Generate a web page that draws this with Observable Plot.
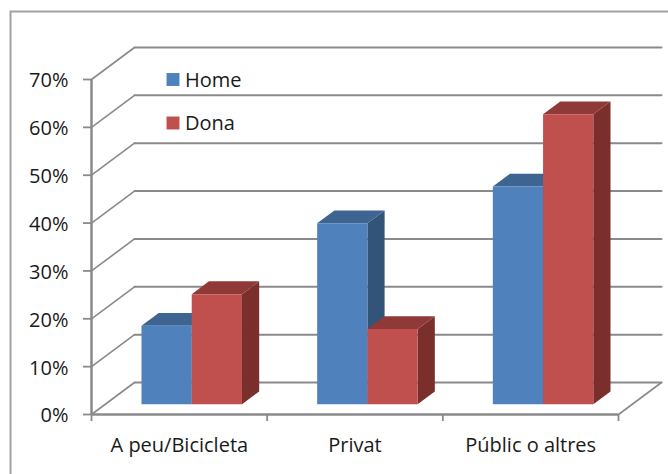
<!DOCTYPE html>
<html>
<head>
<meta charset="utf-8">
<script src="https://cdn.jsdelivr.net/npm/d3@7"></script>
<script src="https://cdn.jsdelivr.net/npm/@observablehq/plot@0.6"></script>
<style>
html,body{margin:0;padding:0;background:#fff;overflow:hidden;}
svg{display:block;}
</style>
</head>
<body>
<div id="chart"></div>
<script>
const categories = ["A peu/Bicicleta", "Privat", "Públic o altres"];
const seriesNames = ["Home", "Dona"];
const homeValues = [16.4, 37.8, 45.5];
const donaValues = [23.0, 15.7, 60.6];
const yTicks = [0, 10, 20, 30, 40, 50, 60, 70];
const frontColors = ["#4F81BD", "#C0504D"];
const topColors = ["#3E6492", "#8F3A38"];
const sideColors = ["#335479", "#7B2F2D"];

// Oblique projection: a point at category position x, value y and depth d (0 front wall, 1 back wall)
const depthX = 43 / (527 / 3);
const depthY = 32 / (335 / 70);
const px = (x, d) => x + d * depthX;
const py = (y, d) => y + d * depthY;
const barWidth = 0.286, barFront = 0.30, barBack = 0.70;

const diagonals = yTicks.flatMap(v => [
  {id: v, x: px(0, 0), y: py(v, 0)},
  {id: v, x: px(0, 1), y: py(v, 1)}
]);
const backLines = yTicks.flatMap(v => [
  {id: v, x: px(0, 1), y: py(v, 1)},
  {id: v, x: px(3, 1), y: py(v, 1)}
]);
const floorEdge = [
  {x: px(3, 0), y: py(0, 0)},
  {x: px(3, 1), y: py(0, 1)}
];

const values = [homeValues, donaValues];
const faces = [];
categories.forEach((c, i) => {
  values.forEach((vals, s) => {
    const v = vals[i];
    const x0 = i + 0.5 + (s - 1) * barWidth, x1 = x0 + barWidth;
    const add = (face, color, pts) => pts.forEach(([x, y, d]) =>
      faces.push({id: `${i}-${s}-${face}`, color, x: px(x, d), y: py(y, d)}));
    add("side", sideColors[s], [[x1, 0, barFront], [x1, 0, barBack], [x1, v, barBack], [x1, v, barFront]]);
    add("top", topColors[s], [[x0, v, barFront], [x1, v, barFront], [x1, v, barBack], [x0, v, barBack]]);
    add("front", frontColors[s], [[x0, 0, barFront], [x1, 0, barFront], [x1, v, barFront], [x0, v, barFront]]);
  });
});

const font = "'Open Sans', 'Noto Sans', sans-serif";
const axisGray = "#8a8a8a";
const textColor = "#1a1a1a";

const legendMarks = seriesNames.flatMap((name, i) => {
  const dy = i * 43.5;
  return [
    Plot.dot([name], {frameAnchor: "top-left", dx: 81.5, dy, symbol: "square", r: 7.3, fill: frontColors[i], stroke: "none"}),
    Plot.text([name], {frameAnchor: "top-left", lineAnchor: "middle", text: d => d, textAnchor: "start", dx: 93.5, dy: dy + 0.7, fill: textColor, fontSize: 20})
  ];
});

const plot = Plot.plot({
  width: 668,
  height: 474,
  marginLeft: 91,
  marginRight: 50,
  marginTop: 79,
  marginBottom: 60,
  style: {background: "#fff", fontFamily: font, fontSize: "20px", color: textColor},
  x: {type: "linear", domain: [0, 3], label: null},
  y: {type: "linear", domain: [0, 70], label: null},
  color: {type: "identity"},
  marks: [
    Plot.frame({stroke: "#a2a2a2", strokeWidth: 2, fill: "none", insetLeft: -81, insetTop: -68, insetRight: -60, insetBottom: -70}),
    Plot.line(backLines, {x: "x", y: "y", z: "id", stroke: axisGray, strokeWidth: 2}),
    Plot.line(diagonals, {x: "x", y: "y", z: "id", stroke: axisGray, strokeWidth: 1.6}),
    Plot.line(floorEdge, {x: "x", y: "y", stroke: axisGray, strokeWidth: 1.6}),
    Plot.ruleX([0], {y1: 0, y2: 70, stroke: axisGray, strokeWidth: 2.5}),
    Plot.ruleY([0], {x1: 0, x2: 3, stroke: axisGray, strokeWidth: 2.5}),
    Plot.axisY({ticks: yTicks, tickFormat: () => "", tickSize: 8, stroke: axisGray, strokeWidth: 1.8, label: null}),
    Plot.axisY({ticks: yTicks, tickFormat: d => d + "%", tickSize: 0, tickPadding: 23, dy: 1.5, fill: textColor, fontSize: 20, label: null}),
    Plot.axisX({ticks: [0, 1, 2, 3], tickFormat: () => "", tickSize: 7, stroke: axisGray, strokeWidth: 1.8, label: null}),
    Plot.axisX({ticks: [0.5, 1.5, 2.5], tickFormat: d => categories[d - 0.5], tickSize: 0, tickPadding: 23, fill: textColor, fontSize: 20, label: null}),
    Plot.line(faces, {x: "x", y: "y", z: "id", fill: "color", stroke: "none", dx: -0.5, dy: -0.7}),
    ...legendMarks
  ]
});
document.getElementById("chart").appendChild(plot);
</script>
</body>
</html>
